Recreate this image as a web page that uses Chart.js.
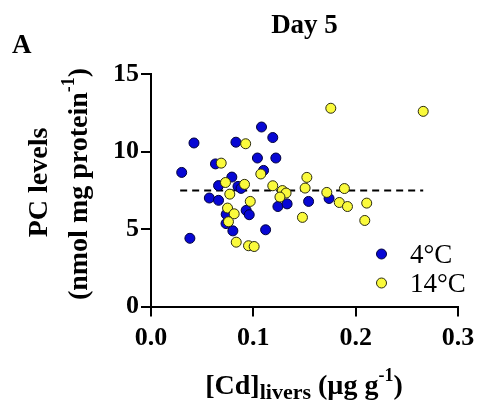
<!DOCTYPE html>
<html>
<head>
<meta charset="utf-8">
<script src="https://cdn.jsdelivr.net/npm/chart.js@4.4.1/dist/chart.umd.min.js"></script>
<style>
  html, body { margin: 0; padding: 0; background: #fff; }
  #wrap { width: 479px; height: 406px; }
</style>
</head>
<body>
<div id="wrap"><canvas id="pcChart" width="479" height="406"></canvas></div>
<script>
// [Cd] in livers (µg g-1) and PC levels (nmol mg protein-1), fish kept at 4°C
const cd4 = [0.030, 0.042, 0.038, 0.057, 0.066, 0.063, 0.066, 0.079, 0.085, 0.088, 0.083, 0.0735, 0.0733,
  0.080, 0.093, 0.096, 0.104, 0.108, 0.119, 0.122, 0.110, 0.124, 0.133, 0.112, 0.154, 0.174];
const pc4 = [8.65, 10.55, 4.40, 7.00, 6.85, 9.20, 7.80, 8.35, 7.75, 7.62, 10.60, 5.95, 5.35,
  4.88, 6.20, 5.92, 9.58, 11.58, 10.90, 9.58, 8.78, 6.45, 6.62, 4.95, 6.78, 6.97];

// same measurements for fish kept at 14°C
const cd14 = [0.0686, 0.0925, 0.0728, 0.0914, 0.0770, 0.097, 0.0748, 0.0813, 0.0757, 0.0833, 0.0953, 0.1008,
  0.1073, 0.119, 0.1284, 0.132, 0.126, 0.1523, 0.1506, 0.148, 0.1718, 0.184, 0.189, 0.192, 0.2108, 0.2089,
  0.1757, 0.266];
const pc14 = [9.25, 10.50, 8.00, 7.88, 7.25, 6.78, 6.35, 5.98, 5.47, 4.15, 3.92, 3.87,
  8.55, 7.79, 7.48, 7.32, 7.06, 8.33, 7.64, 5.75, 7.36, 6.71, 7.61, 6.45, 6.67, 5.55,
  12.79, 12.59];

// dashed reference line (pooled mean)
const meanX = [0.0285, 0.266];
const meanY = [7.48, 7.48];

const xTicks = [0, 0.1, 0.2, 0.3];
const yTicks = [0, 5, 10, 15];

const SERIF = "'Liberation Serif', 'Times New Roman', serif";
const BLUE = "#0707d4";
const YELLOW = "#fafa3c";

function toPoints(xs, ys) {
  return xs.map((x, i) => ({ x: x, y: ys[i] }));
}

// draws a row of text pieces (normal, sub, sup) centred on cx
function drawRuns(ctx, cx, baseY, runs) {
  let total = 0;
  runs.forEach(r => {
    ctx.font = "bold " + r.size + "px " + SERIF;
    r.w = ctx.measureText(r.text).width;
    total += r.w;
  });
  let x = cx - total / 2;
  ctx.textAlign = "left";
  ctx.textBaseline = "alphabetic";
  runs.forEach(r => {
    ctx.font = "bold " + r.size + "px " + SERIF;
    ctx.fillText(r.text, x, baseY + (r.dy || 0));
    x += r.w;
  });
}

const labels = {
  id: "labels",
  afterDraw(chart) {
    const ctx = chart.ctx;
    ctx.save();
    ctx.fillStyle = "#000";

    // panel letter and title
    ctx.font = "bold 27px " + SERIF;
    ctx.textAlign = "left";
    ctx.textBaseline = "alphabetic";
    ctx.fillText("A", 12, 53);
    ctx.textAlign = "center";
    ctx.fillText("Day 5", 304.5, 33);

    // x axis title
    drawRuns(ctx, 304, 394, [
      { text: "[Cd]", size: 28 },
      { text: "livers", size: 22, dy: 5 },
      { text: " (µg g", size: 28 },
      { text: "-1", size: 18, dy: -13 },
      { text: ")", size: 28 }
    ]);

    // y axis title, two rotated lines
    ctx.save();
    ctx.translate(47, 182.5);
    ctx.rotate(-Math.PI / 2);
    drawRuns(ctx, 0, 0, [{ text: "PC levels", size: 28 }]);
    ctx.restore();

    ctx.save();
    ctx.translate(87, 184);
    ctx.rotate(-Math.PI / 2);
    drawRuns(ctx, 0, 0, [
      { text: "(nmol mg protein", size: 28 },
      { text: "-1", size: 18, dy: -13 },
      { text: ")", size: 28 }
    ]);
    ctx.restore();

    // legend
    const rows = [
      { label: "4°C", fill: BLUE, stroke: "#00003c", y: 254 },
      { label: "14°C", fill: YELLOW, stroke: "#2a2a10", y: 283 }
    ];
    ctx.font = "27px " + SERIF;
    ctx.textAlign = "left";
    rows.forEach(r => {
      ctx.beginPath();
      ctx.arc(381.5, r.y, 5, 0, Math.PI * 2);
      ctx.fillStyle = r.fill;
      ctx.fill();
      ctx.lineWidth = 1;
      ctx.strokeStyle = r.stroke;
      ctx.stroke();
      ctx.fillStyle = "#000";
      ctx.fillText(r.label, 410, r.y + 9);
    });
    ctx.restore();
  }
};

const tickFont = { family: SERIF, size: 26, weight: "bold" };

// keep the plot box fixed: no extra room asked for by edge labels
function fixX(s) {
  s.height = 99.5;
  s.paddingLeft = 0;
  s.paddingRight = 0;
}
function fixY(s) {
  s.width = 151;
  s.paddingTop = 0;
  s.paddingBottom = 0;
}

new Chart(document.getElementById("pcChart"), {
  type: "scatter",
  data: {
    datasets: [
      {
        label: "mean",
        type: "line",
        data: toPoints(meanX, meanY),
        borderColor: "#000",
        borderWidth: 2,
        borderDash: [7, 5],
        pointRadius: 0,
        fill: false,
        order: 3
      },
      {
        label: "4°C",
        data: toPoints(cd4, pc4),
        backgroundColor: BLUE,
        borderColor: "#00003c",
        borderWidth: 1,
        pointRadius: 5,
        order: 2
      },
      {
        label: "14°C",
        data: toPoints(cd14, pc14),
        backgroundColor: YELLOW,
        borderColor: "#2a2a10",
        borderWidth: 1,
        pointRadius: 5,
        order: 1
      }
    ]
  },
  options: {
    responsive: false,
    animation: false,
    layout: { padding: { left: 0, right: 21, top: 74, bottom: 0 } },
    plugins: {
      legend: { display: false },
      tooltip: { enabled: false },
      title: { display: false }
    },
    scales: {
      x: {
        type: "linear",
        min: 0,
        max: 0.3,
        afterBuildTicks: s => { s.ticks = xTicks.map(v => ({ value: v })); },
        afterFit: fixX,
        ticks: {
          font: tickFont,
          color: "#000",
          padding: 6,
          maxRotation: 0,
          callback: v => v.toFixed(1)
        },
        grid: { drawOnChartArea: false, drawTicks: true, tickLength: 10, color: "#000", lineWidth: 2 },
        border: { display: true, color: "#000", width: 2 }
      },
      y: {
        min: 0,
        max: 15,
        afterBuildTicks: s => { s.ticks = yTicks.map(v => ({ value: v })); },
        afterFit: fixY,
        ticks: {
          font: tickFont,
          color: "#000",
          padding: 2
        },
        grid: { drawOnChartArea: false, drawTicks: true, tickLength: 10, color: "#000", lineWidth: 2 },
        border: { display: true, color: "#000", width: 2 }
      }
    }
  },
  plugins: [labels]
});
</script>
</body>
</html>
